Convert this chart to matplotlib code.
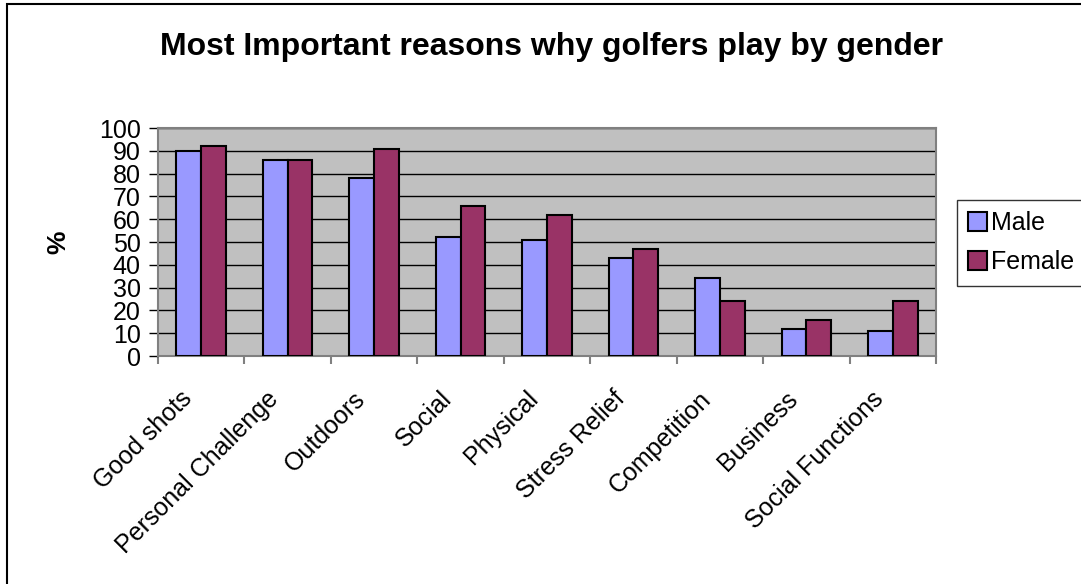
import numpy as np
import matplotlib
matplotlib.use("Agg")
import matplotlib.pyplot as plt
from matplotlib.patches import Rectangle
from matplotlib.transforms import ScaledTranslation

plt.rcParams['font.family'] = ['Liberation Sans', 'DejaVu Sans']

categories = ["Good shots", "Personal Challenge", "Outdoors", "Social", "Physical",
              "Stress Relief", "Competition", "Business", "Social Functions"]
male = [90, 86, 78, 52, 51, 43, 34, 12, 11]
female = [92, 86, 91, 66, 62, 47, 24, 16, 24]
yticks = list(range(0, 101, 10))

W, H = 1081, 584
fig = plt.figure(figsize=(W / 100, H / 100), dpi=100)

# outer chart border (only top/left visible, rest cropped)
fig.patches.append(Rectangle((7 / W, -0.1), 1.2, 1 - 4 / H + 0.1, transform=fig.transFigure,
                             fill=False, edgecolor='black', linewidth=1.5))

ax = fig.add_axes([158 / W, 1 - 356 / H, 778 / W, 228 / H])
ax.set_facecolor('#C0C0C0')

x = np.arange(len(categories))
w = 0.286
b1 = ax.bar(x - w / 2, male, w, color='#9999FF', edgecolor='black', linewidth=1.5, label='Male', zorder=3)
b2 = ax.bar(x + w / 2, female, w, color='#993366', edgecolor='black', linewidth=1.5, label='Female', zorder=3)

ax.set_xlim(-0.5, len(categories) - 0.5)
ax.set_ylim(0, 100)
ax.set_yticks(yticks)
ax.set_yticklabels([str(t) for t in yticks], fontsize=18)
for t in yticks[1:]:
    ax.axhline(t, color='black', linewidth=1, zorder=1)

ax.set_xticks(x)
ax.set_xticklabels(categories, fontsize=18, rotation=45, ha='right', rotation_mode='anchor')
ax.tick_params(axis='x', which='major', length=0, pad=22)
# shift the rotated labels a bit to the left, like the original
shift = ScaledTranslation(-21 / 100, 0, fig.dpi_scale_trans)
for lab in ax.get_xticklabels():
    lab.set_transform(lab.get_transform() + shift)
ax.set_xticks(np.arange(-0.5, len(categories)), minor=True)
ax.tick_params(axis='x', which='minor', length=6, color='#808080', width=1.5, direction='out')
ax.tick_params(axis='y', length=6.5, color='black', width=1, direction='out', pad=6)

for s in ax.spines.values():
    s.set_color('#808080')
    s.set_linewidth(1.5)

fig.text(551 / W, 1 - 47 / H, "Most Important reasons why golfers play by gender",
         ha='center', va='center', fontsize=23, fontweight='bold')
fig.text(58 / W, 1 - 242 / H, "%", ha='center', va='center', rotation=90,
         fontsize=19, fontweight='bold')

leg = fig.legend(handles=[b1, b2], loc='upper left', bbox_to_anchor=(957 / W, 1 - 200 / H),
                 fontsize=18, frameon=True, fancybox=False, handlelength=0.75, handleheight=0.75,
                 handletextpad=0.15, borderpad=0.45, labelspacing=0.6, borderaxespad=0)
leg.get_frame().set_edgecolor('black')
leg.get_frame().set_linewidth(1)

fig.savefig("out.png", dpi=100)
